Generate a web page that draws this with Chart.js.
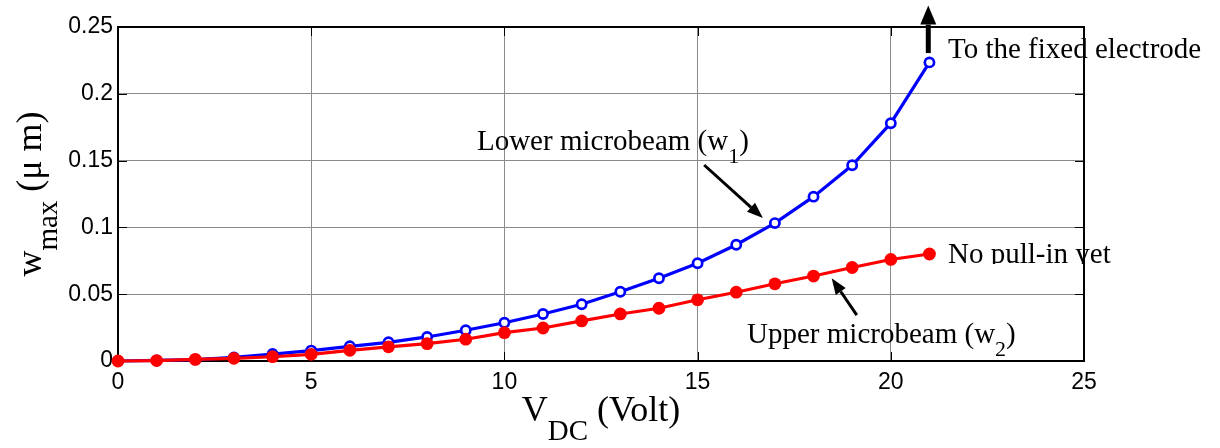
<!DOCTYPE html>
<html>
<head>
<meta charset="utf-8">
<script src="https://cdn.jsdelivr.net/npm/chart.js@4/dist/chart.umd.min.js"></script>
<style>
  html, body { margin: 0; padding: 0; background: #fff; }
  canvas { display: block; }
</style>
</head>
<body>
<canvas id="c" width="1220" height="448"></canvas>
<script>
// DC voltage steps (Volt)
const voltage = [0, 1, 2, 3, 4, 5, 6, 7, 8, 9, 10, 11, 12, 13, 14, 15, 16, 17, 18, 19, 20, 21];
// Maximum deflection of the lower microbeam, w1 (µm)
const wLower = [0, 0.0004, 0.0011, 0.0027, 0.0052, 0.0078, 0.0110, 0.0140, 0.0180, 0.0230, 0.0286,
                0.0352, 0.0425, 0.0518, 0.0619, 0.0732, 0.0870, 0.1032, 0.1230, 0.1465, 0.1780, 0.2235];
// Maximum deflection of the upper microbeam, w2 (µm)
const wUpper = [0, 0.0003, 0.0012, 0.0020, 0.0032, 0.0050, 0.0080, 0.0106, 0.0130, 0.0163, 0.0212,
                0.0247, 0.0300, 0.0352, 0.0395, 0.0458, 0.0515, 0.0578, 0.0636, 0.0700, 0.0760, 0.0801];

// Axis ticks
const xTicks = [0, 5, 10, 15, 20, 25];
const xTickLabels = ['0', '5', '10', '15', '20', '25'];
const yTicks = [0, 0.05, 0.1, 0.15, 0.2, 0.25];
const yTickLabels = ['0', '0.05', '0.1', '0.15', '0.2', '0.25'];

const SERIF = '"Liberation Serif", "Times New Roman", serif';
const SANS = '"Liberation Sans", Arial, sans-serif';

// Draws a run of text pieces (normal / subscript) left to right from (x, y)
function richWidth(ctx, parts) {
  let w = 0;
  parts.forEach(p => { ctx.font = p.size + 'px ' + SERIF; w += ctx.measureText(p.t).width; });
  return w;
}
function drawRich(ctx, x, y, parts) {
  let cx = x;
  parts.forEach(p => {
    ctx.font = p.size + 'px ' + SERIF;
    ctx.fillText(p.t, cx, y + (p.dy || 0));
    cx += ctx.measureText(p.t).width;
  });
}
function arrow(ctx, x1, y1, x2, y2, lw, headLen, headW) {
  const ang = Math.atan2(y2 - y1, x2 - x1);
  const bx = x2 - headLen * Math.cos(ang), by = y2 - headLen * Math.sin(ang);
  ctx.lineWidth = lw;
  ctx.beginPath(); ctx.moveTo(x1, y1); ctx.lineTo(bx, by); ctx.stroke();
  const nx = -Math.sin(ang) * headW / 2, ny = Math.cos(ang) * headW / 2;
  ctx.beginPath();
  ctx.moveTo(x2, y2); ctx.lineTo(bx + nx, by + ny); ctx.lineTo(bx - nx, by - ny);
  ctx.closePath(); ctx.fill();
}

const framePlugin = {
  id: 'frame',
  beforeDatasetsDraw(chart) {
    const { ctx, chartArea: a, scales: { x, y } } = chart;
    ctx.save();
    ctx.strokeStyle = '#000';
    ctx.lineWidth = 1;
    ctx.beginPath();
    xTicks.forEach(v => {
      const px = Math.round(x.getPixelForValue(v)) + 0.5;
      ctx.moveTo(px, a.bottom); ctx.lineTo(px, a.bottom - 9);
      ctx.moveTo(px, a.top); ctx.lineTo(px, a.top + 9);
    });
    yTicks.forEach(v => {
      const py = Math.round(y.getPixelForValue(v)) + 0.5;
      ctx.moveTo(a.left, py); ctx.lineTo(a.left + 9, py);
      ctx.moveTo(a.right, py); ctx.lineTo(a.right - 9, py);
    });
    ctx.stroke();
    ctx.lineWidth = 2;
    ctx.strokeRect(a.left, a.top, a.right - a.left, a.bottom - a.top);
    ctx.restore();
  },
  afterDraw(chart) {
    const { ctx, chartArea: a, scales: { x, y } } = chart;
    ctx.save();
    ctx.fillStyle = '#000';
    ctx.strokeStyle = '#000';
    ctx.textBaseline = 'alphabetic';
    ctx.textAlign = 'left';

    // x-axis title: V_DC (Volt)
    const xt = [{ t: 'V', size: 36 }, { t: 'DC', size: 29, dy: 19 }, { t: ' (Volt)', size: 36 }];
    const xw = richWidth(ctx, xt);
    drawRich(ctx, (a.left + a.right) / 2 - xw / 2, a.bottom + 60, xt);

    // y-axis title: w_max (µ m)
    const yt = [{ t: 'w', size: 36 }, { t: 'max', size: 29, dy: 16 }, { t: ' (\u03bc m)', size: 36 }];
    const yw = richWidth(ctx, yt);
    ctx.save();
    ctx.translate(41, (a.top + a.bottom) / 2);
    ctx.rotate(-Math.PI / 2);
    drawRich(ctx, -yw / 2, 0, yt);
    ctx.restore();

    // annotations
    drawRich(ctx, x.getPixelForValue(21.48), y.getPixelForValue(0.2268), [{ t: 'To the fixed electrode', size: 29 }]);
    drawRich(ctx, x.getPixelForValue(9.29), y.getPixelForValue(0.158),
      [{ t: 'Lower microbeam (w', size: 29 }, { t: '1', size: 22, dy: 13 }, { t: ')', size: 29 }]);
    drawRich(ctx, x.getPixelForValue(16.28), y.getPixelForValue(0.0135),
      [{ t: 'Upper microbeam (w', size: 29 }, { t: '2', size: 22, dy: 13 }, { t: ')', size: 29 }]);
    // "No pull-in yet" is cut just under its baseline
    const npx = x.getPixelForValue(21.48), npy = y.getPixelForValue(0.0734);
    ctx.save();
    ctx.beginPath(); ctx.rect(npx - 5, npy - 40, 300, 41); ctx.clip();
    drawRich(ctx, npx, npy, [{ t: 'No pull-in yet', size: 29 }]);
    ctx.restore();

    // arrows
    arrow(ctx, x.getPixelForValue(20.97), y.getPixelForValue(0.2305),
               x.getPixelForValue(20.97), y.getPixelForValue(0.2660), 5, 19, 16);
    arrow(ctx, x.getPixelForValue(15.17), y.getPixelForValue(0.1467),
               x.getPixelForValue(16.69), y.getPixelForValue(0.1070), 3, 16, 12);
    arrow(ctx, x.getPixelForValue(19.12), y.getPixelForValue(0.0344),
               x.getPixelForValue(18.47), y.getPixelForValue(0.0619), 3, 16, 12);
    ctx.restore();
  }
};

const toPoints = (xs, ys) => xs.map((v, i) => ({ x: v, y: ys[i] }));

new Chart(document.getElementById('c'), {
  type: 'line',
  data: {
    datasets: [
      {
        label: 'Upper microbeam (w2)',
        data: toPoints(voltage, wUpper),
        borderColor: '#ff0000',
        backgroundColor: '#ff0000',
        borderWidth: 3.2,
        pointRadius: 6.4,
        pointBorderWidth: 0,
        pointBackgroundColor: '#ff0000',
        pointBorderColor: '#ff0000',
        tension: 0,
        clip: false,
        order: 0
      },
      {
        label: 'Lower microbeam (w1)',
        data: toPoints(voltage, wLower),
        borderColor: '#0000ff',
        backgroundColor: '#ffffff',
        borderWidth: 3.2,
        pointRadius: 4.6,
        pointBorderWidth: 2.7,
        pointBackgroundColor: '#ffffff',
        pointBorderColor: '#0000ff',
        tension: 0,
        clip: false,
        order: 1
      }
    ]
  },
  options: {
    responsive: false,
    animation: false,
    devicePixelRatio: 1,
    layout: { padding: { left: 0, right: 136, top: 27, bottom: 0 } },
    plugins: { legend: { display: false }, tooltip: { enabled: false } },
    scales: {
      x: {
        type: 'linear',
        min: 0, max: 25,
        afterBuildTicks: s => { s.ticks = xTicks.map(v => ({ value: v })); },
        afterFit: s => { s.height = 87; },
        ticks: {
          callback: (v) => xTickLabels[xTicks.indexOf(v)],
          color: '#000',
          font: { family: SANS, size: 23 },
          padding: 8,
          maxRotation: 0
        },
        grid: { color: '#8a8a8a', lineWidth: 1, drawTicks: false },
        border: { display: false }
      },
      y: {
        type: 'linear',
        min: 0, max: 0.25,
        afterBuildTicks: s => { s.ticks = yTicks.map(v => ({ value: v })); },
        afterFit: s => { s.width = 118; },
        ticks: {
          callback: (v) => { const i = yTicks.findIndex(t => Math.abs(t - v) < 1e-9); return yTickLabels[i]; },
          color: '#000',
          font: { family: SANS, size: 23 },
          padding: 5
        },
        grid: { color: '#8a8a8a', lineWidth: 1, drawTicks: false },
        border: { display: false }
      }
    }
  },
  plugins: [framePlugin]
});
</script>
</body>
</html>
